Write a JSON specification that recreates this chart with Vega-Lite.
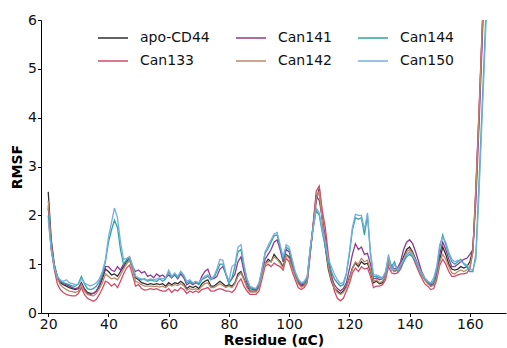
{
"$schema":"https://vega.github.io/schema/vega-lite/v6.json",
"width":465,"height":293,
"autosize":{"type":"none"},
"padding":{"left":41,"top":20,"right":1,"bottom":35},
"background":"white",
"config":{"view":{"stroke":null},"font":"DejaVu Sans",
"axis":{"grid":false,"domainColor":"#000","domainWidth":1,"tickColor":"#000","tickSize":3.5,"labelFontSize":14,"labelColor":"#111","labelPadding":1,"titleFontSize":14,"titleFontWeight":"bold","titleColor":"#000"}},
"data":{"values":[
{"r":20,"apo-CD44":2.48,"Can133":2.15,"Can141":2.2,"Can142":2.3,"Can144":2.0,"Can150":1.9},
{"r":21,"apo-CD44":1.5,"Can133":1.3,"Can141":1.4,"Can142":1.4,"Can144":1.3,"Can150":1.3},
{"r":22,"apo-CD44":1.0,"Can133":0.9,"Can141":0.95,"Can142":0.95,"Can144":0.95,"Can150":0.95},
{"r":23,"apo-CD44":0.75,"Can133":0.6,"Can141":0.75,"Can142":0.7,"Can144":0.75,"Can150":0.75},
{"r":24,"apo-CD44":0.62,"Can133":0.48,"Can141":0.65,"Can142":0.58,"Can144":0.65,"Can150":0.68},
{"r":25,"apo-CD44":0.58,"Can133":0.42,"Can141":0.6,"Can142":0.52,"Can144":0.62,"Can150":0.65},
{"r":26,"apo-CD44":0.55,"Can133":0.38,"Can141":0.58,"Can142":0.48,"Can144":0.6,"Can150":0.68},
{"r":27,"apo-CD44":0.52,"Can133":0.36,"Can141":0.55,"Can142":0.45,"Can144":0.58,"Can150":0.62},
{"r":28,"apo-CD44":0.5,"Can133":0.35,"Can141":0.52,"Can142":0.44,"Can144":0.55,"Can150":0.6},
{"r":29,"apo-CD44":0.48,"Can133":0.35,"Can141":0.5,"Can142":0.42,"Can144":0.55,"Can150":0.58},
{"r":30,"apo-CD44":0.5,"Can133":0.4,"Can141":0.52,"Can142":0.45,"Can144":0.6,"Can150":0.58},
{"r":31,"apo-CD44":0.62,"Can133":0.52,"Can141":0.6,"Can142":0.58,"Can144":0.75,"Can150":0.7},
{"r":32,"apo-CD44":0.5,"Can133":0.38,"Can141":0.48,"Can142":0.45,"Can144":0.6,"Can150":0.62},
{"r":33,"apo-CD44":0.42,"Can133":0.3,"Can141":0.4,"Can142":0.38,"Can144":0.5,"Can150":0.58},
{"r":34,"apo-CD44":0.4,"Can133":0.27,"Can141":0.38,"Can142":0.36,"Can144":0.48,"Can150":0.55},
{"r":35,"apo-CD44":0.4,"Can133":0.24,"Can141":0.4,"Can142":0.35,"Can144":0.5,"Can150":0.58},
{"r":36,"apo-CD44":0.45,"Can133":0.28,"Can141":0.45,"Can142":0.4,"Can144":0.55,"Can150":0.62},
{"r":37,"apo-CD44":0.55,"Can133":0.38,"Can141":0.58,"Can142":0.5,"Can144":0.65,"Can150":0.7},
{"r":38,"apo-CD44":0.7,"Can133":0.5,"Can141":0.75,"Can142":0.62,"Can144":0.8,"Can150":0.85},
{"r":39,"apo-CD44":0.9,"Can133":0.65,"Can141":0.95,"Can142":0.8,"Can144":1.05,"Can150":1.1},
{"r":40,"apo-CD44":0.85,"Can133":0.62,"Can141":0.95,"Can142":0.75,"Can144":1.45,"Can150":1.55},
{"r":41,"apo-CD44":0.78,"Can133":0.55,"Can141":0.88,"Can142":0.7,"Can144":1.7,"Can150":1.85},
{"r":42,"apo-CD44":0.8,"Can133":0.6,"Can141":0.85,"Can142":0.72,"Can144":1.9,"Can150":2.15},
{"r":43,"apo-CD44":0.75,"Can133":0.52,"Can141":0.95,"Can142":0.68,"Can144":1.75,"Can150":1.95},
{"r":44,"apo-CD44":0.85,"Can133":0.65,"Can141":0.88,"Can142":0.78,"Can144":1.3,"Can150":1.45},
{"r":45,"apo-CD44":0.95,"Can133":0.8,"Can141":1.0,"Can142":0.9,"Can144":1.0,"Can150":1.1},
{"r":46,"apo-CD44":1.05,"Can133":0.92,"Can141":1.08,"Can142":1.0,"Can144":1.08,"Can150":1.12},
{"r":47,"apo-CD44":1.12,"Can133":0.98,"Can141":1.15,"Can142":1.08,"Can144":1.12,"Can150":1.15},
{"r":48,"apo-CD44":0.92,"Can133":0.78,"Can141":0.95,"Can142":0.88,"Can144":0.95,"Can150":0.98},
{"r":49,"apo-CD44":0.72,"Can133":0.55,"Can141":0.85,"Can142":0.65,"Can144":0.75,"Can150":0.75},
{"r":50,"apo-CD44":0.68,"Can133":0.58,"Can141":0.88,"Can142":0.62,"Can144":0.7,"Can150":0.72},
{"r":51,"apo-CD44":0.62,"Can133":0.5,"Can141":0.82,"Can142":0.58,"Can144":0.68,"Can150":0.7},
{"r":52,"apo-CD44":0.6,"Can133":0.47,"Can141":0.85,"Can142":0.55,"Can144":0.7,"Can150":0.68},
{"r":53,"apo-CD44":0.58,"Can133":0.48,"Can141":0.75,"Can142":0.55,"Can144":0.65,"Can150":0.68},
{"r":54,"apo-CD44":0.6,"Can133":0.5,"Can141":0.78,"Can142":0.55,"Can144":0.68,"Can150":0.7},
{"r":55,"apo-CD44":0.58,"Can133":0.48,"Can141":0.72,"Can142":0.54,"Can144":0.66,"Can150":0.68},
{"r":56,"apo-CD44":0.6,"Can133":0.5,"Can141":0.8,"Can142":0.55,"Can144":0.65,"Can150":0.7},
{"r":57,"apo-CD44":0.58,"Can133":0.47,"Can141":0.75,"Can142":0.53,"Can144":0.7,"Can150":0.72},
{"r":58,"apo-CD44":0.6,"Can133":0.45,"Can141":0.78,"Can142":0.55,"Can144":0.65,"Can150":0.7},
{"r":59,"apo-CD44":0.55,"Can133":0.45,"Can141":0.72,"Can142":0.52,"Can144":0.7,"Can150":0.72},
{"r":60,"apo-CD44":0.62,"Can133":0.5,"Can141":0.78,"Can142":0.58,"Can144":0.85,"Can150":0.88},
{"r":61,"apo-CD44":0.58,"Can133":0.42,"Can141":0.72,"Can142":0.55,"Can144":0.72,"Can150":0.75},
{"r":62,"apo-CD44":0.62,"Can133":0.48,"Can141":0.78,"Can142":0.58,"Can144":0.8,"Can150":0.82},
{"r":63,"apo-CD44":0.6,"Can133":0.45,"Can141":0.7,"Can142":0.56,"Can144":0.72,"Can150":0.75},
{"r":64,"apo-CD44":0.65,"Can133":0.52,"Can141":0.8,"Can142":0.6,"Can144":0.85,"Can150":0.85},
{"r":65,"apo-CD44":0.6,"Can133":0.48,"Can141":0.72,"Can142":0.56,"Can144":0.75,"Can150":0.78},
{"r":66,"apo-CD44":0.5,"Can133":0.4,"Can141":0.58,"Can142":0.47,"Can144":0.62,"Can150":0.65},
{"r":67,"apo-CD44":0.55,"Can133":0.45,"Can141":0.62,"Can142":0.5,"Can144":0.65,"Can150":0.68},
{"r":68,"apo-CD44":0.52,"Can133":0.42,"Can141":0.58,"Can142":0.48,"Can144":0.6,"Can150":0.62},
{"r":69,"apo-CD44":0.55,"Can133":0.45,"Can141":0.62,"Can142":0.5,"Can144":0.62,"Can150":0.65},
{"r":70,"apo-CD44":0.5,"Can133":0.42,"Can141":0.6,"Can142":0.47,"Can144":0.58,"Can150":0.62},
{"r":71,"apo-CD44":0.6,"Can133":0.48,"Can141":0.75,"Can142":0.55,"Can144":0.68,"Can150":0.7},
{"r":72,"apo-CD44":0.65,"Can133":0.5,"Can141":0.85,"Can142":0.6,"Can144":0.72,"Can150":0.75},
{"r":73,"apo-CD44":0.68,"Can133":0.52,"Can141":0.9,"Can142":0.62,"Can144":0.75,"Can150":0.78},
{"r":74,"apo-CD44":0.55,"Can133":0.45,"Can141":0.72,"Can142":0.52,"Can144":0.68,"Can150":0.7},
{"r":75,"apo-CD44":0.55,"Can133":0.45,"Can141":0.7,"Can142":0.52,"Can144":0.72,"Can150":0.75},
{"r":76,"apo-CD44":0.6,"Can133":0.48,"Can141":0.75,"Can142":0.56,"Can144":0.85,"Can150":0.9},
{"r":77,"apo-CD44":0.65,"Can133":0.5,"Can141":0.9,"Can142":0.6,"Can144":1.0,"Can150":1.1},
{"r":78,"apo-CD44":0.6,"Can133":0.48,"Can141":0.95,"Can142":0.56,"Can144":1.0,"Can150":1.08},
{"r":79,"apo-CD44":0.55,"Can133":0.45,"Can141":0.8,"Can142":0.52,"Can144":0.78,"Can150":0.82},
{"r":80,"apo-CD44":0.58,"Can133":0.45,"Can141":0.62,"Can142":0.55,"Can144":0.6,"Can150":0.65},
{"r":81,"apo-CD44":0.55,"Can133":0.42,"Can141":0.7,"Can142":0.52,"Can144":0.72,"Can150":0.95},
{"r":82,"apo-CD44":0.62,"Can133":0.48,"Can141":0.8,"Can142":0.6,"Can144":0.95,"Can150":1.0},
{"r":83,"apo-CD44":0.8,"Can133":0.62,"Can141":1.05,"Can142":0.75,"Can144":1.25,"Can150":1.35},
{"r":84,"apo-CD44":0.85,"Can133":0.7,"Can141":1.15,"Can142":0.82,"Can144":1.3,"Can150":1.4},
{"r":85,"apo-CD44":0.7,"Can133":0.55,"Can141":0.85,"Can142":0.68,"Can144":0.95,"Can150":1.0},
{"r":86,"apo-CD44":0.55,"Can133":0.45,"Can141":0.62,"Can142":0.52,"Can144":0.68,"Can150":0.7},
{"r":87,"apo-CD44":0.45,"Can133":0.38,"Can141":0.5,"Can142":0.43,"Can144":0.52,"Can150":0.55},
{"r":88,"apo-CD44":0.45,"Can133":0.38,"Can141":0.48,"Can142":0.43,"Can144":0.5,"Can150":0.52},
{"r":89,"apo-CD44":0.45,"Can133":0.38,"Can141":0.48,"Can142":0.43,"Can144":0.5,"Can150":0.5},
{"r":90,"apo-CD44":0.55,"Can133":0.45,"Can141":0.58,"Can142":0.52,"Can144":0.6,"Can150":0.62},
{"r":91,"apo-CD44":0.8,"Can133":0.7,"Can141":0.85,"Can142":0.78,"Can144":0.9,"Can150":0.9},
{"r":92,"apo-CD44":1.0,"Can133":0.95,"Can141":1.1,"Can142":1.0,"Can144":1.22,"Can150":1.25},
{"r":93,"apo-CD44":1.1,"Can133":1.0,"Can141":1.2,"Can142":1.05,"Can144":1.32,"Can150":1.38},
{"r":94,"apo-CD44":1.05,"Can133":0.95,"Can141":1.3,"Can142":1.05,"Can144":1.45,"Can150":1.5},
{"r":95,"apo-CD44":1.2,"Can133":1.02,"Can141":1.45,"Can142":1.15,"Can144":1.58,"Can150":1.62},
{"r":96,"apo-CD44":1.12,"Can133":0.98,"Can141":1.5,"Can142":1.1,"Can144":1.6,"Can150":1.65},
{"r":97,"apo-CD44":1.05,"Can133":0.95,"Can141":1.3,"Can142":1.02,"Can144":1.35,"Can150":1.4},
{"r":98,"apo-CD44":0.95,"Can133":0.88,"Can141":1.05,"Can142":0.92,"Can144":1.1,"Can150":1.15},
{"r":99,"apo-CD44":1.2,"Can133":1.12,"Can141":1.3,"Can142":1.18,"Can144":1.35,"Can150":1.4},
{"r":100,"apo-CD44":1.15,"Can133":1.05,"Can141":1.25,"Can142":1.12,"Can144":1.3,"Can150":1.35},
{"r":101,"apo-CD44":0.95,"Can133":0.85,"Can141":1.0,"Can142":0.92,"Can144":1.05,"Can150":1.1},
{"r":102,"apo-CD44":0.78,"Can133":0.68,"Can141":0.8,"Can142":0.75,"Can144":0.82,"Can150":0.85},
{"r":103,"apo-CD44":0.62,"Can133":0.52,"Can141":0.65,"Can142":0.6,"Can144":0.68,"Can150":0.7},
{"r":104,"apo-CD44":0.55,"Can133":0.48,"Can141":0.57,"Can142":0.53,"Can144":0.6,"Can150":0.62},
{"r":105,"apo-CD44":0.58,"Can133":0.52,"Can141":0.6,"Can142":0.56,"Can144":0.62,"Can150":0.65},
{"r":106,"apo-CD44":0.68,"Can133":0.62,"Can141":0.7,"Can142":0.66,"Can144":0.72,"Can150":0.75},
{"r":107,"apo-CD44":1.25,"Can133":1.2,"Can141":1.3,"Can142":1.25,"Can144":1.3,"Can150":1.35},
{"r":108,"apo-CD44":1.8,"Can133":1.85,"Can141":1.8,"Can142":1.8,"Can144":1.75,"Can150":1.75},
{"r":109,"apo-CD44":2.3,"Can133":2.5,"Can141":2.4,"Can142":2.35,"Can144":2.1,"Can150":2.15},
{"r":110,"apo-CD44":2.55,"Can133":2.6,"Can141":2.3,"Can142":2.5,"Can144":2.0,"Can150":2.05},
{"r":111,"apo-CD44":1.9,"Can133":2.1,"Can141":1.95,"Can142":1.9,"Can144":1.65,"Can150":1.7},
{"r":112,"apo-CD44":1.35,"Can133":1.75,"Can141":1.55,"Can142":1.4,"Can144":1.35,"Can150":1.45},
{"r":113,"apo-CD44":0.9,"Can133":1.2,"Can141":1.05,"Can142":0.95,"Can144":1.05,"Can150":1.1},
{"r":114,"apo-CD44":0.65,"Can133":0.8,"Can141":0.75,"Can142":0.68,"Can144":0.85,"Can150":0.95},
{"r":115,"apo-CD44":0.5,"Can133":0.45,"Can141":0.58,"Can142":0.52,"Can144":0.7,"Can150":0.8},
{"r":116,"apo-CD44":0.45,"Can133":0.3,"Can141":0.5,"Can142":0.42,"Can144":0.62,"Can150":0.68},
{"r":117,"apo-CD44":0.4,"Can133":0.25,"Can141":0.45,"Can142":0.38,"Can144":0.55,"Can150":0.6},
{"r":118,"apo-CD44":0.45,"Can133":0.3,"Can141":0.5,"Can142":0.42,"Can144":0.58,"Can150":0.62},
{"r":119,"apo-CD44":0.55,"Can133":0.45,"Can141":0.62,"Can142":0.52,"Can144":0.8,"Can150":0.82},
{"r":120,"apo-CD44":0.72,"Can133":0.6,"Can141":0.9,"Can142":0.7,"Can144":1.2,"Can150":1.25},
{"r":121,"apo-CD44":0.92,"Can133":0.82,"Can141":1.2,"Can142":0.9,"Can144":1.7,"Can150":1.75},
{"r":122,"apo-CD44":1.02,"Can133":0.92,"Can141":1.42,"Can142":1.05,"Can144":1.95,"Can150":2.02},
{"r":123,"apo-CD44":0.95,"Can133":0.85,"Can141":1.3,"Can142":1.0,"Can144":1.92,"Can150":2.0},
{"r":124,"apo-CD44":1.05,"Can133":0.95,"Can141":1.35,"Can142":1.12,"Can144":1.95,"Can150":2.0},
{"r":125,"apo-CD44":1.0,"Can133":0.9,"Can141":1.2,"Can142":1.05,"Can144":1.6,"Can150":1.7},
{"r":126,"apo-CD44":1.02,"Can133":0.92,"Can141":1.22,"Can142":1.08,"Can144":2.0,"Can150":2.05},
{"r":127,"apo-CD44":0.85,"Can133":0.75,"Can141":1.0,"Can142":0.88,"Can144":1.2,"Can150":1.25},
{"r":128,"apo-CD44":0.62,"Can133":0.52,"Can141":0.7,"Can142":0.65,"Can144":0.75,"Can150":0.78},
{"r":129,"apo-CD44":0.65,"Can133":0.55,"Can141":0.72,"Can142":0.68,"Can144":0.75,"Can150":0.78},
{"r":130,"apo-CD44":0.6,"Can133":0.55,"Can141":0.68,"Can142":0.62,"Can144":0.72,"Can150":0.75},
{"r":131,"apo-CD44":0.62,"Can133":0.58,"Can141":0.7,"Can142":0.65,"Can144":0.72,"Can150":0.72},
{"r":132,"apo-CD44":0.75,"Can133":0.68,"Can141":0.8,"Can142":0.75,"Can144":0.82,"Can150":0.85},
{"r":133,"apo-CD44":1.05,"Can133":0.95,"Can141":1.1,"Can142":1.05,"Can144":1.15,"Can150":1.2},
{"r":134,"apo-CD44":0.9,"Can133":0.82,"Can141":0.95,"Can142":0.9,"Can144":0.95,"Can150":0.85},
{"r":135,"apo-CD44":0.85,"Can133":0.8,"Can141":0.9,"Can142":0.85,"Can144":1.05,"Can150":1.0},
{"r":136,"apo-CD44":0.9,"Can133":0.82,"Can141":0.92,"Can142":0.88,"Can144":0.85,"Can150":0.88},
{"r":137,"apo-CD44":1.0,"Can133":0.9,"Can141":1.05,"Can142":0.98,"Can144":0.95,"Can150":0.98},
{"r":138,"apo-CD44":1.15,"Can133":1.05,"Can141":1.3,"Can142":1.1,"Can144":1.05,"Can150":1.1},
{"r":139,"apo-CD44":1.3,"Can133":1.2,"Can141":1.45,"Can142":1.25,"Can144":1.15,"Can150":1.2},
{"r":140,"apo-CD44":1.35,"Can133":1.25,"Can141":1.5,"Can142":1.3,"Can144":1.2,"Can150":1.25},
{"r":141,"apo-CD44":1.25,"Can133":1.15,"Can141":1.42,"Can142":1.22,"Can144":1.15,"Can150":1.18},
{"r":142,"apo-CD44":1.1,"Can133":1.0,"Can141":1.25,"Can142":1.08,"Can144":1.05,"Can150":1.08},
{"r":143,"apo-CD44":0.95,"Can133":0.85,"Can141":1.05,"Can142":0.92,"Can144":0.92,"Can150":0.95},
{"r":144,"apo-CD44":0.8,"Can133":0.72,"Can141":0.85,"Can142":0.78,"Can144":0.8,"Can150":0.82},
{"r":145,"apo-CD44":0.7,"Can133":0.6,"Can141":0.72,"Can142":0.68,"Can144":0.7,"Can150":0.72},
{"r":146,"apo-CD44":0.62,"Can133":0.55,"Can141":0.65,"Can142":0.6,"Can144":0.62,"Can150":0.65},
{"r":147,"apo-CD44":0.55,"Can133":0.48,"Can141":0.58,"Can142":0.55,"Can144":0.6,"Can150":0.62},
{"r":148,"apo-CD44":0.58,"Can133":0.5,"Can141":0.6,"Can142":0.57,"Can144":0.65,"Can150":0.72},
{"r":149,"apo-CD44":0.75,"Can133":0.68,"Can141":0.8,"Can142":0.72,"Can144":0.9,"Can150":0.95},
{"r":150,"apo-CD44":1.1,"Can133":0.98,"Can141":1.2,"Can142":1.05,"Can144":1.35,"Can150":1.4},
{"r":151,"apo-CD44":1.35,"Can133":1.1,"Can141":1.45,"Can142":1.2,"Can144":1.6,"Can150":1.55},
{"r":152,"apo-CD44":1.2,"Can133":1.0,"Can141":1.3,"Can142":1.1,"Can144":1.4,"Can150":1.45},
{"r":153,"apo-CD44":1.0,"Can133":0.85,"Can141":1.1,"Can142":0.95,"Can144":1.2,"Can150":1.25},
{"r":154,"apo-CD44":0.9,"Can133":0.75,"Can141":0.95,"Can142":0.82,"Can144":1.05,"Can150":1.1},
{"r":155,"apo-CD44":0.88,"Can133":0.75,"Can141":0.95,"Can142":0.8,"Can144":1.0,"Can150":1.05},
{"r":156,"apo-CD44":0.9,"Can133":0.78,"Can141":1.0,"Can142":0.85,"Can144":1.05,"Can150":1.08},
{"r":157,"apo-CD44":0.95,"Can133":0.8,"Can141":1.05,"Can142":0.88,"Can144":1.1,"Can150":1.05},
{"r":158,"apo-CD44":0.92,"Can133":0.8,"Can141":1.1,"Can142":0.85,"Can144":1.0,"Can150":1.02},
{"r":159,"apo-CD44":0.95,"Can133":0.82,"Can141":1.12,"Can142":0.88,"Can144":0.95,"Can150":0.98},
{"r":160,"apo-CD44":1.05,"Can133":0.9,"Can141":1.2,"Can142":0.95,"Can144":0.85,"Can150":0.9},
{"r":161,"apo-CD44":1.3,"Can133":1.25,"Can141":1.3,"Can142":1.25,"Can144":0.85,"Can150":0.88},
{"r":162,"apo-CD44":2.5,"Can133":2.6,"Can141":2.3,"Can142":2.5,"Can144":1.2,"Can150":1.1},
{"r":163,"apo-CD44":4.0,"Can133":4.1,"Can141":3.8,"Can142":4.0,"Can144":2.6,"Can150":2.4},
{"r":164,"apo-CD44":5.6,"Can133":5.7,"Can141":5.4,"Can142":5.6,"Can144":4.1,"Can150":3.9},
{"r":165,"apo-CD44":7.2,"Can133":7.3,"Can141":7.0,"Can142":7.2,"Can144":5.6,"Can150":5.4},
{"r":166,"apo-CD44":8.8,"Can133":8.9,"Can141":8.6,"Can142":8.8,"Can144":7.1,"Can150":6.9}
]},
"transform":[{"fold":["apo-CD44","Can133","Can141","Can142","Can144","Can150"],"as":["series","rmsf"]}],
"mark":{"type":"line","clip":true,"strokeWidth":1.3},
"encoding":{
"x":{"field":"r","type":"quantitative","scale":{"domain":[17.6,172],"nice":false,"zero":false},
"axis":{"title":"Residue (αC)","values":[20,40,60,80,100,120,140,160],"titlePadding":2}},
"y":{"field":"rmsf","type":"quantitative","scale":{"domain":[0,6],"nice":false},
"axis":{"title":"RMSF","values":[0,1,2,3,4,5,6],"titlePadding":3}},
"color":{"field":"series","type":"nominal",
"scale":{"domain":["apo-CD44","Can133","Can141","Can142","Can144","Can150"],
"range":["#2e2e2e","#d24a68","#8e3a8e","#b98a68","#2ea3a8","#78aede"]},
"legend":{"title":null,"orient":"none","legendX":56,"legendY":2,"columns":3,"symbolType":"stroke","symbolSize":900,"symbolStrokeWidth":1.5,"labelFontSize":14,"labelColor":"#111","labelOffset":11,"columnPadding":23,"rowPadding":0}}
}
}
